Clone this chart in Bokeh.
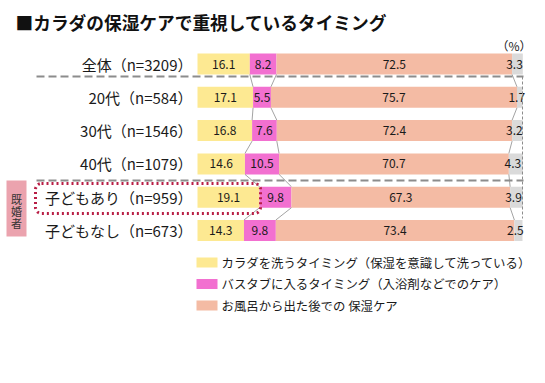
from bokeh.plotting import figure
from bokeh.models import Range1d, ColumnDataSource, Label, BoxAnnotation
from bokeh.embed import file_html
from bokeh.resources import INLINE
from bokeh.core.properties import value

# ---- data ----
categories = ["全体（n=3209）", "20代（n=584）", "30代（n=1546）", "40代（n=1079）",
              "子どもあり（n=959）", "子どもなし（n=673）"]
wash = [16.1, 17.1, 16.8, 14.6, 19.1, 14.3]
bath = [8.2, 5.5, 7.6, 10.5, 9.8, 9.8]
after = [72.5, 75.7, 72.4, 70.7, 67.3, 73.4]
other = [3.3, 1.7, 3.2, 4.3, 3.9, 2.5]
series_names = ["カラダを洗うタイミング（保湿を意識して洗っている）",
                "バスタブに入るタイミング（入浴剤などでのケア）",
                "お風呂から出た後での 保湿ケア"]
title = "■カラダの保湿ケアで重視しているタイミング"

colors = ["#FDE992", "#F270D0", "#F4BBA4", "#DADADA"]
FONT = "Noto Sans CJK JP"

# ---- layout helpers (image pixel -> data) ----
W, H = 537, 375
X0, PXPCT = 197.0, 3.25
ROW0, ROWH = 63.5, 33.3
def X(px): return (px - X0) / PXPCT
def Y(py): return (py - ROW0) / ROWH

p = figure(width=W, height=H, output_backend="svg", toolbar_location=None,
           x_range=Range1d(X(0), X(W)), y_range=Range1d(Y(H), Y(0)),
           min_border=0, x_axis_location=None, y_axis_location=None)
p.grid.visible = False
p.outline_line_color = None
p.background_fill_color = "white"
p.border_fill_color = "white"

n = len(categories)
idx = list(range(n))
series = [wash, bath, after, other]
BH = 0.63

lefts = [0.0] * n
cums = []
for k, s in enumerate(series):
    rights = [l + v for l, v in zip(lefts, s)]
    src = ColumnDataSource(dict(y=idx, left=lefts, right=rights))
    p.hbar(y="y", left="left", right="right", height=BH, source=src,
           fill_color=colors[k], line_color=None)
    cums.append(rights)
    lefts = rights

# connector lines
x0s, y0s, x1s, y1s = [], [], [], []
for k in range(3):
    for i in range(n - 1):
        x0s.append(cums[k][i]); y0s.append(i + BH / 2)
        x1s.append(cums[k][i + 1]); y1s.append(i + 1 - BH / 2)
p.segment(x0=x0s, y0=y0s, x1=x1s, y1=y1s, line_color="#8C8C8C", line_width=0.8)

# value labels
lefts = [0.0] * n
for k, s in enumerate(series):
    mids = [l + v / 2 for l, v in zip(lefts, s)]
    lefts = [l + v for l, v in zip(lefts, s)]
    p.text(x=mids, y=idx, text=["%.1f" % v for v in s], text_align="center",
           text_baseline="middle", text_font=value(FONT), text_font_size="12px",
           text_color="#1a1a1a", x_offset=(-3 if k == 3 else 0))

# category labels
p.text(x=[X(192)] * n, y=idx, text=categories, text_align="right",
       text_baseline="middle", text_font=value(FONT), text_font_size="15px",
       text_color="#1a1a1a")

# dashed separators
p.segment(x0=[X(36), X(36)], y0=[Y(76), Y(180)], x1=[X(523), X(523)], y1=[Y(76), Y(180)],
          line_color="#8C8C8C", line_width=2, line_dash="8 4")
p.segment(x0=[X(522)], y0=[Y(76)], x1=[X(522)], y1=[Y(218)],
          line_color="#8C8C8C", line_width=1, line_dash="3 2")

# married box
p.quad(left=[X(6)], right=[X(26)], top=[Y(180)], bottom=[Y(236)],
       fill_color="#EBA3AE", line_color=None)
for j, ch in enumerate("既婚者"):
    p.add_layout(Label(x=X(16), y=Y(198 + j * 12), text=ch, text_align="center",
                       text_baseline="middle", text_font=FONT, text_font_size="11px",
                       text_color="#333333"))

# dotted highlight
p.add_layout(BoxAnnotation(left=X(35), right=X(260), top=Y(183), bottom=Y(213),
                           fill_color=None, fill_alpha=0, line_color="#B81E45",
                           line_alpha=1.0, line_width=3, line_dash="2 3",
                           border_radius=6))

# legend
for k in range(3):
    cy = 262 + k * 21.5
    p.quad(left=[X(196)], right=[X(217)], top=[Y(cy - 5)], bottom=[Y(cy + 5)],
           fill_color=colors[k], line_color=None)
    p.add_layout(Label(x=X(221), y=Y(cy), text=series_names[k], text_align="left",
                       text_baseline="middle", text_font=FONT, text_font_size="12.4px",
                       text_color="#1a1a1a"))

# title and unit
p.add_layout(Label(x=X(15), y=Y(21), text=title, text_align="left", text_baseline="middle",
                   text_font=FONT, text_font_size="17.7px", text_font_style="bold",
                   text_color="#111111"))
p.add_layout(Label(x=X(531), y=Y(45), text="（%）", text_align="right", text_baseline="middle",
                   text_font=FONT, text_font_size="12px", text_color="#1a1a1a"))

open("out.html", "w").write(file_html(p, INLINE))
